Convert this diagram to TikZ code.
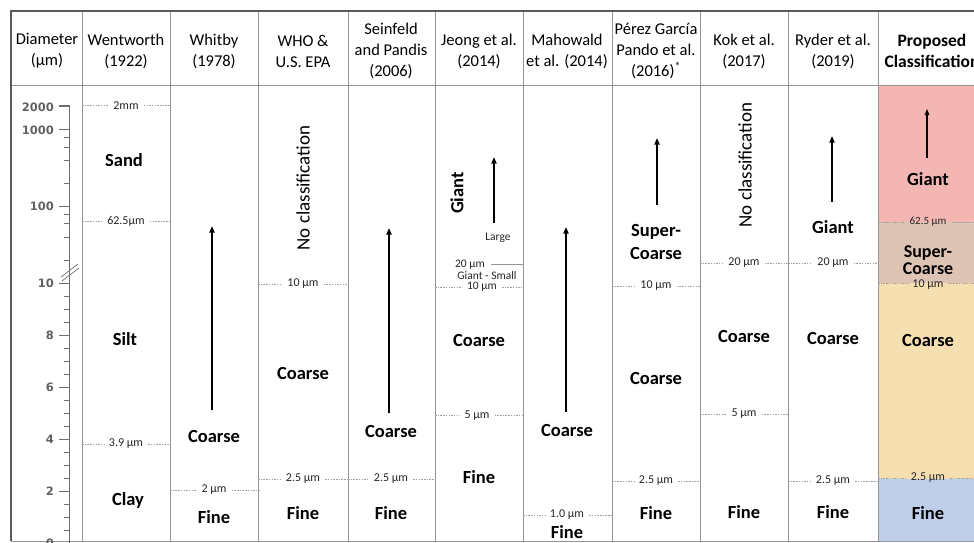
\documentclass[tikz,border=0pt]{standalone}
\usepackage{fontspec}
\setmainfont{Carlito}
\newfontfamily\axfont{DejaVu Sans}
\usetikzlibrary{arrows.meta}
\definecolor{gridc}{HTML}{959595}
\definecolor{borderc}{HTML}{5A5A5A}
\definecolor{dotc}{HTML}{A0A0A0}
\definecolor{axc}{HTML}{6E6E6E}
\definecolor{pinkc}{HTML}{F3B6B3}
\definecolor{tanc}{HTML}{DEC4B5}
\definecolor{peachc}{HTML}{F5DEB0}
\definecolor{bluec}{HTML}{C0CFE9}
\newcommand\sepl[6]{%
  \node[lbl] (#1) at (#4,#5) {#6};
  \draw[dotl] (#2,#5) -- (#1.west);
  \draw[dotl] (#1.east) -- (#3,#5);
}
\newcommand\uparr[4]{%
  \coordinate (#1a) at (#2,#3);
  \coordinate (#1b) at (#2,#4);
  \draw[arr] (#1a) -- (#1b);
}
\begin{document}
\begin{tikzpicture}[x=1pt,y=-1pt,
  hdr/.style={font=\fontsize{16.5}{21}\selectfont, align=center, inner sep=0pt, text=black},
  cls/.style={font=\bfseries\fontsize{18.5}{18.5}\selectfont, inner sep=0pt, align=center, text=black},
  ncl/.style={font=\fontsize{19}{19}\selectfont, inner sep=0pt, text=black},
  lbl/.style={font=\fontsize{12}{12}\selectfont, inner xsep=5pt, inner ysep=0pt, text=black!85},
  dotl/.style={draw=dotc, dash pattern=on 1.5pt off 1.2pt, line width=0.6pt},
  gridl/.style={draw=gridc, line width=1pt},
  axis/.style={draw=axc, line width=0.9pt},
  axl/.style={font=\axfont\bfseries\fontsize{11.5}{11.5}\selectfont, text=black!62, inner sep=0pt, anchor=east},
  arr/.style={-{Triangle[length=6.5pt,width=5pt]}, line width=1.6pt, draw=black}]
\useasboundingbox (0,0) rectangle (974,543);
\clip (0,0) rectangle (974,543);
\fill[white] (0,0) rectangle (974,543);

% proposed column fills
\fill[pinkc] (878,85) rectangle (982,222);
\fill[tanc] (878,222) rectangle (982,283);
\fill[peachc] (878,283) rectangle (982,479);
\fill[bluec] (878,479) rectangle (982,541);

% grid
\foreach \x in {82,170,258,348,435,523,612,700,788,878} {
  \draw[gridl] (\x,11) -- (\x,541);
}
\draw[gridl] (11,85) -- (982,85);
\draw[gridl] (11,541) -- (982,541);
\draw[draw=borderc, line width=1.5pt] (11,541) -- (11,11) -- (982,11);

% headers
\node[hdr] (h0) at (47,51) {Diameter\\(µm)};
\node[hdr] (h1) at (126,51) {Wentworth\\(1922)};
\node[hdr] (h2) at (214,51) {Whitby\\(1978)};
\node[hdr] (h3) at (303,51) {WHO \&\\U.S. EPA};
\node[hdr] (h4) at (391,51) {Seinfeld\\and Pandis\\(2006)};
\node[hdr] (h5) at (479,51) {Jeong et al.\\(2014)};
\node[hdr] (h6) at (567,51) {Mahowald\\et al. (2014)};
\node[hdr] (h7) at (656,51) {Pérez García\\Pando et al.\\(2016)\textsuperscript{*}};
\node[hdr] (h8) at (744,51) {Kok et al.\\(2017)};
\node[hdr] (h9) at (833,51) {Ryder et al.\\(2019)};
\node[hdr, font=\bfseries\fontsize{17.5}{21}\selectfont] (h10) at (932,51) {Proposed\\Classification};

% axis
\draw[axis] (59,105.7) -- (69.5,105.7) -- (69.5,546);
\foreach \v in {2000,1000,100,10} {
  \pgfmathsetmacro\yy{360-76.7*log10(\v)}
  \draw[axis] (59,\yy) -- (69.5,\yy);
  \node[axl] (ax\v) at (54,\yy) {\v};
}
\foreach \v in {20,40,60,80,200,400,600,800} {
  \pgfmathsetmacro\yy{360-76.7*log10(\v)}
  \draw[axis, line width=0.6pt] (64,\yy) -- (69.5,\yy);
}
\foreach \v in {0.5,1,...,9.5} {
  \pgfmathsetmacro\yy{543.5-26*\v}
  \draw[axis, line width=0.6pt] (64,\yy) -- (69.5,\yy);
}
\foreach \v in {8,6,4,2,0} {
  \pgfmathsetmacro\yy{543.5-26*\v}
  \draw[axis] (59,\yy) -- (69.5,\yy);
  \node[axl] (axl\v) at (54,\yy) {\v};
}
\draw[axis, line width=0.7pt] (61,277) -- (78,264);
\draw[axis, line width=0.7pt] (62,281) -- (79,268);

% Wentworth
\sepl{w1}{82}{170}{126}{105.7}{2mm}
\node[cls] (sand) at (124,160) {Sand};
\sepl{w2}{82}{170}{126}{221}{62.5µm}
\node[cls] (silt) at (125,339) {Silt};
\sepl{w3}{82}{170}{126}{444}{3.9 µm}
\node[cls] (clay) at (128,500) {Clay};

% Whitby
\uparr{wb}{212}{410}{226}
\node[cls] (wbc) at (214,436) {Coarse};
\sepl{wb2}{170}{260}{214}{490}{2 µm}
\node[cls] (wbf) at (214,517) {Fine};

% WHO
\node[ncl, rotate=90] (whon) at (303,188) {No classification};
\sepl{who10}{258}{348}{303}{284}{10 µm}
\node[cls] (whoc) at (303,373) {Coarse};
\sepl{who25}{258}{348}{303}{479}{2.5 µm}
\node[cls] (whof) at (303,513) {Fine};

% Seinfeld
\uparr{sp}{389}{413}{228}
\node[cls] (spc) at (391,431) {Coarse};
\sepl{sp25}{348}{435}{391}{479}{2.5 µm}
\node[cls] (spf) at (391,513) {Fine};

% Jeong
\node[cls, rotate=90] (jg) at (457,193) {Giant};
\uparr{je}{494}{223}{157}
\node[lbl, inner xsep=0pt, font=\fontsize{11.5}{11.5}\selectfont] (jl) at (498,238) {Large};
\node[lbl, inner xsep=0pt, font=\fontsize{11.5}{11.5}\selectfont] (j20) at (470,264.5) {20 µm};
\coordinate (j20e) at (523,264.5);
\draw[draw=gridc, line width=0.8pt] ([xshift=6pt]j20.east) -- (j20e);
\node[lbl, inner xsep=0pt, font=\fontsize{11.5}{11.5}\selectfont] (jgs) at (487,275.5) {Giant - Small};
\sepl{je10}{435}{523}{482}{287}{\fontsize{11.5}{11.5}\selectfont 10 µm}
\node[cls] (jec) at (479,340) {Coarse};
\sepl{je5}{435}{523}{477}{415.7}{5 µm}
\node[cls] (jef) at (479,477) {Fine};

% Mahowald
\uparr{ma}{566}{412}{227}
\node[cls] (mac) at (567,430) {Coarse};
\sepl{ma1}{523}{612}{567}{515}{1.0 µm}
\node[cls] (maf) at (567,532) {Fine};

% Perez Garcia Pando
\uparr{pg}{657}{205}{138}
\node[cls, font=\bfseries\fontsize{18.5}{23}\selectfont] (pgs) at (656,242) {Super-\\Coarse};
\sepl{pg10}{612}{700}{656}{286}{10 µm}
\node[cls] (pgc) at (656,378) {Coarse};
\sepl{pg25}{612}{700}{656}{481}{2.5 µm}
\node[cls] (pgf) at (656,513) {Fine};

% Kok
\node[ncl, rotate=90] (kon) at (745,165) {No classification};
\sepl{ko20}{700}{788}{744}{263}{20 µm}
\node[cls] (koc) at (744,336) {Coarse};
\sepl{ko5}{700}{788}{744}{414}{5 µm}
\node[cls] (kof) at (744,512) {Fine};

% Ryder
\uparr{ry}{832}{202}{136}
\node[cls] (ryg) at (833,227) {Giant};
\sepl{ry20}{788}{878}{833}{263}{20 µm}
\node[cls] (ryc) at (833,338) {Coarse};
\sepl{ry25}{788}{878}{833}{481}{2.5 µm}
\node[cls] (ryf) at (833,512) {Fine};

% Proposed
\coordinate (pra) at (927,158);
\coordinate (prb) at (927,109);
\draw[-{Triangle[length=6pt,width=4.5pt]}, line width=1.1pt] (pra) -- (prb);
\node[cls] (prg) at (928,179) {Giant};
\sepl{pr62}{878}{982}{928}{222}{\fontsize{11}{11}\selectfont 62.5 µm}
\node[cls, font=\bfseries\fontsize{18}{17}\selectfont] (prs) at (928,260) {Super-\\Coarse};
\draw[dotl] (878,283) -- (908,283);
\draw[dotl] (948,283) -- (982,283);
\node[lbl, inner xsep=0pt] (pr10) at (928,285) {10 µm};
\node[cls] (prc) at (928,340) {Coarse};
\sepl{pr25}{878}{982}{928}{478}{2.5 µm}
\node[cls] (prf) at (928,513) {Fine};
\end{tikzpicture}
\end{document}
